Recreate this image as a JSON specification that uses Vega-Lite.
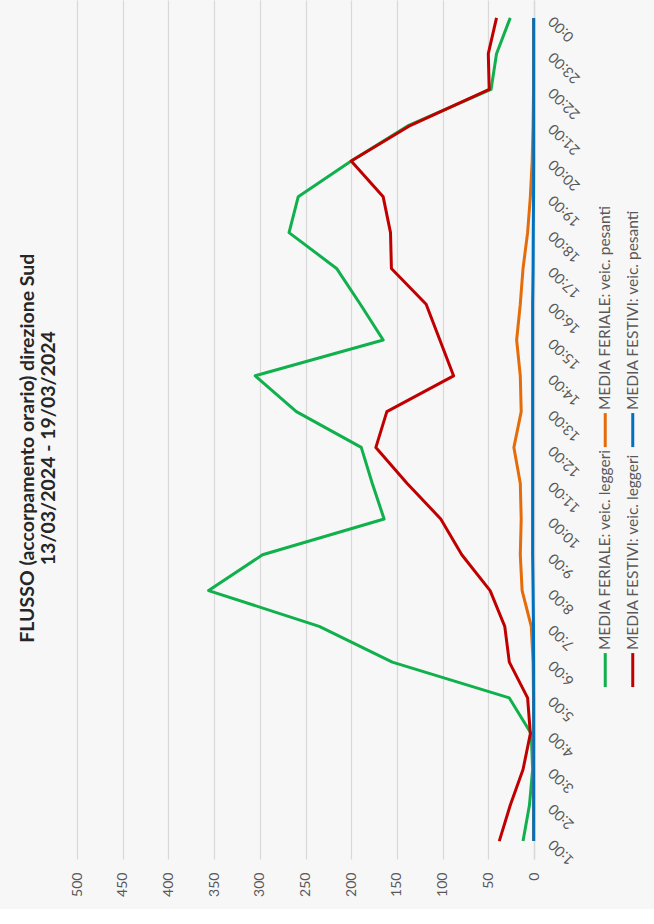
{
  "$schema": "https://vega.github.io/schema/vega-lite/v6.json",
  "background": "#f7f7f7",
  "padding": {"left": 17, "top": 0, "right": 12, "bottom": 12},
  "title": {
    "text": "FLUSSO (accorpamento orario) direzione Sud",
    "subtitle": "13/03/2024 - 19/03/2024",
    "orient": "left",
    "anchor": "middle",
    "font": "Lato",
    "fontSize": 19.5,
    "fontWeight": "bold",
    "color": "#262626",
    "subtitleFont": "Lato",
    "subtitleFontSize": 19.5,
    "subtitleFontWeight": "bold",
    "subtitleColor": "#262626",
    "subtitlePadding": 1,
    "offset": 11
  },
  "datasets": {
    "flow": [
      {"ora": "1:00", "h": 1, "FL": 12, "FP": 0.5, "SL": 38, "SP": 0.3},
      {"ora": "2:00", "h": 2, "FL": 5, "FP": 0.5, "SL": 26, "SP": 0.3},
      {"ora": "3:00", "h": 3, "FL": 1.5, "FP": 0.5, "SL": 12, "SP": 0.3},
      {"ora": "4:00", "h": 4, "FL": 3, "FP": 0.5, "SL": 4, "SP": 0.3},
      {"ora": "5:00", "h": 5, "FL": 27, "FP": 0.5, "SL": 7, "SP": 0.3},
      {"ora": "6:00", "h": 6, "FL": 155, "FP": 1, "SL": 27, "SP": 0.4},
      {"ora": "7:00", "h": 7, "FL": 235, "FP": 3, "SL": 32, "SP": 0.6},
      {"ora": "8:00", "h": 8, "FL": 356, "FP": 13, "SL": 48, "SP": 1},
      {"ora": "9:00", "h": 9, "FL": 297, "FP": 15, "SL": 79, "SP": 1.5},
      {"ora": "10:00", "h": 10, "FL": 164, "FP": 14, "SL": 102, "SP": 1.5},
      {"ora": "11:00", "h": 11, "FL": 177, "FP": 15, "SL": 139, "SP": 1.5},
      {"ora": "12:00", "h": 12, "FL": 189, "FP": 22, "SL": 173, "SP": 1.5},
      {"ora": "13:00", "h": 13, "FL": 260, "FP": 14, "SL": 161, "SP": 1.5},
      {"ora": "14:00", "h": 14, "FL": 305, "FP": 15, "SL": 88, "SP": 1.5},
      {"ora": "15:00", "h": 15, "FL": 165, "FP": 19, "SL": 103, "SP": 1.5},
      {"ora": "16:00", "h": 16, "FL": 190, "FP": 15, "SL": 118, "SP": 1.5},
      {"ora": "17:00", "h": 17, "FL": 216, "FP": 12, "SL": 156, "SP": 1},
      {"ora": "18:00", "h": 18, "FL": 268, "FP": 7, "SL": 157, "SP": 0.8},
      {"ora": "19:00", "h": 19, "FL": 258, "FP": 4, "SL": 165, "SP": 0.5},
      {"ora": "20:00", "h": 20, "FL": 200, "FP": 2, "SL": 200, "SP": 0.3},
      {"ora": "21:00", "h": 21, "FL": 137, "FP": 1, "SL": 135, "SP": 0.3},
      {"ora": "22:00", "h": 22, "FL": 47, "FP": 0.5, "SL": 49, "SP": 0.3},
      {"ora": "23:00", "h": 23, "FL": 41, "FP": 0.5, "SL": 50, "SP": 0.3},
      {"ora": "0:00", "h": 24, "FL": 26, "FP": 0.5, "SL": 41, "SP": 0.3}
    ],
    "leg": [
      {"serie": "FL", "gruppo": "FERIALE", "tipo": "leggeri", "etichetta": "MEDIA FERIALE: veic. leggeri"},
      {"serie": "FP", "gruppo": "FERIALE", "tipo": "pesanti", "etichetta": "MEDIA FERIALE: veic. pesanti"},
      {"serie": "SL", "gruppo": "FESTIVI", "tipo": "leggeri", "etichetta": "MEDIA FESTIVI: veic. leggeri"},
      {"serie": "SP", "gruppo": "FESTIVI", "tipo": "pesanti", "etichetta": "MEDIA FESTIVI: veic. pesanti"}
    ]
  },
  "spacing": 16,
  "hconcat": [
    {
      "width": 457,
      "height": 859,
      "data": {"name": "flow"},
      "transform": [{"fold": ["FL", "FP", "SL", "SP"], "as": ["serie", "valore"]}],
      "mark": {"type": "line", "strokeWidth": 3, "strokeJoin": "round"},
      "encoding": {
        "y": {
          "field": "ora",
          "type": "ordinal",
          "sort": ["0:00", "23:00", "22:00", "21:00", "20:00", "19:00", "18:00", "17:00", "16:00", "15:00", "14:00", "13:00", "12:00", "11:00", "10:00", "9:00", "8:00", "7:00", "6:00", "5:00", "4:00", "3:00", "2:00", "1:00"],
          "scale": {"type": "point", "padding": 0.5},
          "axis": {
            "orient": "right",
            "title": null,
            "ticks": false,
            "grid": false,
            "domain": true,
            "domainColor": "#d9d9d9",
            "domainWidth": 1.5,
            "zindex": 0,
            "labelAngle": 225,
            "labelAlign": "right",
            "labelBaseline": "middle",
            "labelPadding": 17,
            "labelFont": "Lato",
            "labelFontSize": 14.5,
            "labelColor": "#595959"
          }
        },
        "x": {
          "field": "valore",
          "type": "quantitative",
          "scale": {"domain": [0, 500], "reverse": true, "nice": false},
          "axis": {
            "orient": "bottom",
            "title": null,
            "values": [0, 50, 100, 150, 200, 250, 300, 350, 400, 450, 500],
            "ticks": false,
            "domain": false,
            "grid": true,
            "gridColor": "#d9d9d9",
            "gridWidth": 1.2,
            "labelAngle": 270,
            "labelAlign": "right",
            "labelBaseline": "middle",
            "labelPadding": 13,
            "labelFont": "Lato",
            "labelFontSize": 14,
            "labelColor": "#595959"
          }
        },
        "order": {"field": "h", "type": "quantitative"},
        "color": {
          "field": "serie",
          "type": "nominal",
          "scale": {"domain": ["FL", "FP", "SL", "SP"], "range": ["#10b04c", "#e46c0a", "#c00000", "#0070c0"]},
          "legend": null
        }
      }
    },
    {
      "width": 40,
      "height": 720,
      "data": {"name": "leg"},
      "encoding": {
        "x": {"field": "gruppo", "type": "nominal", "scale": {"type": "point", "domain": ["FERIALE", "FESTIVI"], "padding": 0.227, "align": 0.5}, "axis": null},
        "y": {"field": "tipo", "type": "nominal", "scale": {"type": "point", "domain": ["pesanti", "leggeri"], "padding": 1, "align": 0.896}, "axis": null}
      },
      "layer": [
        {
          "mark": {"type": "point", "shape": "M0,-1L0,1", "size": 1156, "filled": false, "strokeWidth": 3, "opacity": 1},
          "encoding": {
            "color": {
              "field": "serie",
              "type": "nominal",
              "scale": {"domain": ["FL", "FP", "SL", "SP"], "range": ["#10b04c", "#e46c0a", "#c00000", "#0070c0"]},
              "legend": null
            }
          }
        },
        {
          "mark": {"type": "text", "angle": 270, "align": "left", "baseline": "middle", "dx": 20, "font": "Lato", "fontSize": 15.5, "color": "#595959"},
          "encoding": {"text": {"field": "etichetta"}}
        }
      ]
    }
  ],
  "config": {"view": {"stroke": null}}
}
